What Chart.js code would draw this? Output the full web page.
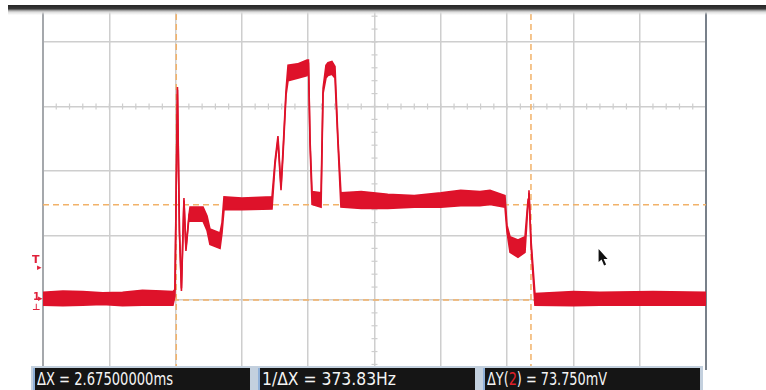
<!DOCTYPE html>
<html><head><meta charset="utf-8">
<script src="https://cdn.jsdelivr.net/npm/chart.js@4.4.0/dist/chart.umd.min.js"></script>
<style>
html,body{margin:0;padding:0;background:#fff;width:766px;height:390px;overflow:hidden;}
#wrap{position:relative;width:766px;height:390px;}
canvas{position:absolute;left:0;top:0;}
#topbar{position:absolute;left:8px;right:0;top:5px;height:10px;background:linear-gradient(#252525 0,#3a3a3a 4px,#8a8a8a 5px,#dcdcdc 7px,rgba(255,255,255,0) 10px);}
#status{position:absolute;left:31px;top:366px;width:672px;height:24px;background:#c3d0de;}
.box{position:absolute;top:2px;height:22px;width:217px;background:#151515;box-sizing:border-box;border-left:2px solid #8fb0d8;overflow:hidden;}
.txt{position:absolute;left:2px;top:0;color:#f4f4f4;font-family:"DejaVu Sans Condensed","Liberation Sans Narrow","DejaVu Sans",sans-serif;font-size:17px;line-height:23px;white-space:nowrap;transform-origin:0 50%;}
.red{color:#e0202a}
.mk{position:absolute;color:#e0203a;font-family:"DejaVu Sans",sans-serif;font-weight:bold;line-height:1;}
</style></head>
<body>
<div id="wrap">
<canvas id="c" width="766" height="390"></canvas>
<div id="topbar"></div>
<div class="mk" style="left:32px;top:254px;font-size:11px;">T</div>
<div class="mk" style="left:37px;top:263px;font-size:9px;">▸</div>
<div class="mk" style="left:33px;top:292px;font-size:10px;">1</div>
<div class="mk" style="left:38px;top:294px;font-size:9px;">▸</div>
<div class="mk" style="left:32px;top:303px;font-size:9px;">⊥</div>
<div id="status">
  <div class="box" style="left:2px;"><span class="txt" id="t1">ΔX = 2.67500000ms</span></div>
  <div class="box" style="left:227px;"><span class="txt" id="t2">1/ΔX = 373.83Hz</span></div>
  <div class="box" style="left:452px;"><span class="txt" id="t3">ΔY(<span class="red">2</span>) = 73.750mV</span></div>
</div>
</div>
<script>
// time (ms) and envelope of the noisy trace (mV)
const timeMs = [0, 0.15, 0.3, 0.45, 0.6, 0.75, 0.9, 0.98, 0.995, 1.014, 1.029, 1.044, 1.063, 1.078, 1.101, 1.109, 1.207, 1.237, 1.259, 1.335, 1.350, 1.365, 1.5,
  1.727, 1.750, 1.772, 1.787, 1.795, 1.810, 1.833, 1.848, 1.92, 1.991, 2.002, 2.014, 2.029, 2.097, 2.112, 2.134, 2.149, 2.179, 2.202, 2.225,
  2.247, 2.4, 2.6, 2.8, 3.0, 3.15, 3.296, 3.371, 3.484, 3.499, 3.522, 3.582, 3.635, 3.658, 3.665, 3.680, 3.710, 4.0, 4.2, 4.6, 5.0];
const upperMv = [6, 7, 6.5, 5.5, 6, 7.5, 7, 6.5, 8, 165, 54, 9, 79, 40, 66, 72, 72, 65, 55, 52, 60, 80, 79,
  80, 108, 127, 101, 88, 116, 163, 182, 183, 186, 186, 124, 84, 83, 164, 182, 184, 185, 181, 124,
  83, 84, 82, 81, 83, 85, 84, 85, 81, 58, 49, 46.5, 49, 78, 85, 47, 5, 6.5, 6, 6.5, 6];
const lowerMv = [-4, -4.5, -4, -3.5, -4.5, -4, -4, -4, 3, 163, 52, 7, 77, 38, 64, 61, 61, 54, 43, 40, 52, 70, 70,
  70.5, 105, 124, 98, 85, 112, 159, 170, 172, 174, 184, 120, 74, 72, 160, 172, 174, 175, 172, 120,
  72, 71, 71, 72, 72, 73, 73, 74, 72, 53, 37, 33, 37, 75, 83, 43, -4, -4.5, -4, -4, -4];
const cursorTimesMs = [1.005, 3.68];
const cursorLevelsMv = [73.75, 0];
const xRangeMs = [0, 5];
const yRangeMv = [-54.3, 224.8];
const xStepMs = 0.5;
const yStepMv = 50;
const pointerAt = {x: 4.19, y: 39.5};

const RED = 'rgb(222,18,42)';
const CUR = 'rgb(242,178,105)';
const GRID = 'rgb(206,206,206)';

const datasets = [
  {data: timeMs.map((t,i)=>({x:t,y:upperMv[i]})), borderColor: RED, borderWidth: 1.6, pointRadius: 0, fill: false, order: 0, tension: 0},
  {data: timeMs.map((t,i)=>({x:t,y:lowerMv[i]})), borderColor: RED, borderWidth: 1.6, pointRadius: 0, fill: '-1', backgroundColor: RED, order: 0, tension: 0}
];
cursorTimesMs.forEach(c => datasets.push({data:[{x:c,y:yRangeMv[0]},{x:c,y:yRangeMv[1]}], borderColor: CUR, borderWidth: 1.5, borderDash:[6,4], pointRadius:0, fill:false, order: 2}));
cursorLevelsMv.forEach(l => datasets.push({data:[{x:xRangeMs[0],y:l},{x:xRangeMs[1],y:l}], borderColor: CUR, borderWidth: 1.5, borderDash:[6,4], pointRadius:0, fill:false, order: 2}));

const deco = {
  id: 'deco',
  beforeDatasetsDraw(chart) {
    const {ctx, scales:{x, y}, chartArea:a} = chart;
    ctx.save();
    ctx.strokeStyle = GRID; ctx.lineWidth = 1.2;
    const yc = y.getPixelForValue(150), xc = x.getPixelForValue(2.5);
    for (let t = xRangeMs[0]; t <= xRangeMs[1] + 1e-9; t += 0.1) {
      const px = x.getPixelForValue(t);
      ctx.beginPath(); ctx.moveTo(px, yc-3); ctx.lineTo(px, yc+3); ctx.stroke();
    }
    for (let v = -50; v <= 220; v += 10) {
      const py = y.getPixelForValue(v);
      ctx.beginPath(); ctx.moveTo(xc-3, py); ctx.lineTo(xc+3, py); ctx.stroke();
    }
    ctx.lineWidth = 2;
    ctx.strokeStyle = 'rgb(165,168,172)';
    ctx.beginPath(); ctx.moveTo(a.left, a.top); ctx.lineTo(a.left, a.bottom); ctx.stroke();
    ctx.strokeStyle = 'rgb(120,128,138)';
    ctx.beginPath(); ctx.moveTo(a.right, a.top); ctx.lineTo(a.right, a.bottom); ctx.stroke();
    ctx.restore();
  },
  afterDraw(chart) {
    const {ctx, scales:{x, y}} = chart;
    const px = x.getPixelForValue(pointerAt.x), py = y.getPixelForValue(pointerAt.y);
    ctx.save();
    ctx.translate(px, py);
    ctx.fillStyle = '#111';
    ctx.beginPath();
    ctx.moveTo(0,0); ctx.lineTo(0,13); ctx.lineTo(3,10.5); ctx.lineTo(5.5,16.5); ctx.lineTo(7.5,15.5);
    ctx.lineTo(5,10); ctx.lineTo(9,10); ctx.closePath(); ctx.fill();
    ctx.restore();
  }
};

new Chart(document.getElementById('c'), {
  type: 'line',
  data: {datasets},
  plugins: [deco],
  options: {
    responsive: false,
    animation: false,
    events: [],
    layout: {padding: {left: 43, right: 60, top: 10, bottom: 20}},
    plugins: {legend: {display: false}, tooltip: {enabled: false}},
    scales: {
      x: {type: 'linear', min: xRangeMs[0], max: xRangeMs[1],
          ticks: {display: false, stepSize: xStepMs},
          grid: {color: GRID, lineWidth: 1.5, drawTicks: false},
          border: {display: false}},
      y: {type: 'linear', min: yRangeMv[0], max: yRangeMv[1],
          ticks: {display: false, stepSize: yStepMv},
          afterBuildTicks: s => { s.ticks = s.ticks.filter(t => Math.abs(t.value % yStepMv) < 1e-6); },
          grid: {color: GRID, lineWidth: 1.5, drawTicks: false},
          border: {display: false}}
    }
  }
});
// fit status texts to the widths seen in the reference
[['t1', 136], ['t2', 134], ['t3', 120]].forEach(([id, w]) => {
  const el = document.getElementById(id);
  const s = w / el.getBoundingClientRect().width;
  el.style.transform = 'scaleX(' + s + ')';
});
</script>
</body></html>
